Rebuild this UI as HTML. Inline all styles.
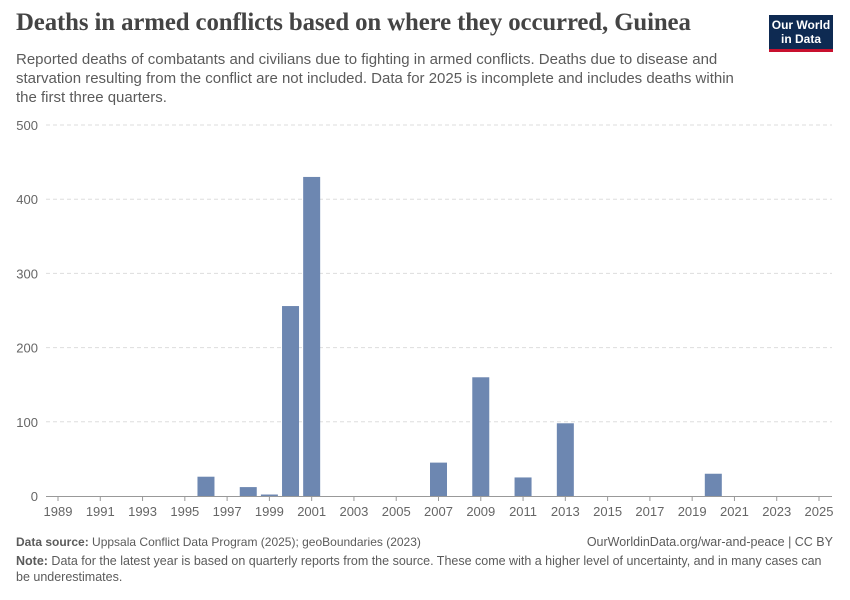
<!DOCTYPE html>
<html><head><meta charset="utf-8"><style>
body{margin:0;background:#fff;font-family:"Liberation Sans",sans-serif;}
#wrap{position:relative;width:850px;height:600px;overflow:hidden;}
h1{position:absolute;left:16px;top:9px;margin:0;font-family:"Liberation Serif",serif;font-size:24.8px;font-weight:bold;color:#444;letter-spacing:-0.1px}
.sub{position:absolute;left:16px;top:50px;width:735px;font-size:15px;line-height:19px;color:#5b5b5b}
.logo{position:absolute;left:769px;top:15px;width:64px;height:37px;background:#0e2a52;border-bottom:3px solid #c8102e;color:#fff;font-size:12px;font-weight:bold;line-height:14px;text-align:center;padding-top:3px;box-sizing:border-box}
.foot{position:absolute;left:16px;font-size:12.5px;color:#5b5b5b;line-height:16px}
</style></head><body><div id="wrap">
<h1>Deaths in armed conflicts based on where they occurred, Guinea</h1>
<div class="sub">Reported deaths of combatants and civilians due to fighting in armed conflicts. Deaths due to disease and starvation resulting from the conflict are not included. Data for 2025 is incomplete and includes deaths within the first three quarters.</div>
<div class="logo">Our World<br>in Data</div>
<svg id="chart" width="850" height="600" style="position:absolute;left:0;top:0"></svg>
<div class="foot" style="top:534px;font-size:12px"><b>Data source:</b> Uppsala Conflict Data Program (2025); geoBoundaries (2023)</div>
<div class="foot" style="top:534px;left:auto;right:17px">OurWorldinData.org/war-and-peace | CC BY</div>
<div class="foot" style="top:553px;width:810px"><b>Note:</b> Data for the latest year is based on quarterly reports from the source. These come with a higher level of uncertainty, and in many cases can be underestimates.</div>
</div>
<script>
const years=[1996,1998,1999,2000,2001,2007,2009,2011,2013,2020];
const deaths=[26,12,2,256,430,45,160,25,98,30];
const yTicks=[0,100,200,300,400,500];
const xTicks=[1989,1991,1993,1995,1997,1999,2001,2003,2005,2007,2009,2011,2013,2015,2017,2019,2021,2023,2025];
const svg=document.getElementById('chart');
const NS='http://www.w3.org/2000/svg';
const x=v=>58+(v-1989)*(761/36);
const y=v=>496-v*0.742;
function mk(t,a){const e=document.createElementNS(NS,t);for(const k in a)e.setAttribute(k,a[k]);svg.appendChild(e);return e;}
yTicks.forEach(t=>{
 if(t>0){const l=mk('line',{x1:46,x2:832,y1:y(t),y2:y(t),stroke:'#ddd','stroke-dasharray':'4,3'});
 
 }
 const tx=mk('text',{x:38,y:y(t)+5,'text-anchor':'end','font-size':'13','fill':'#666','font-family':'Liberation Sans'});
 tx.textContent=t;
 
 
});
years.forEach((yr,i)=>{
 const r=mk('rect',{x:x(yr)-8.5,y:y(deaths[i]),width:17,height:496-y(deaths[i]),fill:'#6d87b1'});
 
 
});
const ax=mk('line',{x1:46,x2:832,y1:496.5,y2:496.5,stroke:'#999'});


xTicks.forEach(t=>{
 const l=mk('line',{x1:x(t),x2:x(t),y1:496,y2:501,stroke:'#999'});
 
 
 const tx=mk('text',{x:x(t),y:516,'text-anchor':'middle','font-size':'13','fill':'#666','font-family':'Liberation Sans'});
 tx.textContent=t;
 
 
});
</script></body></html>
